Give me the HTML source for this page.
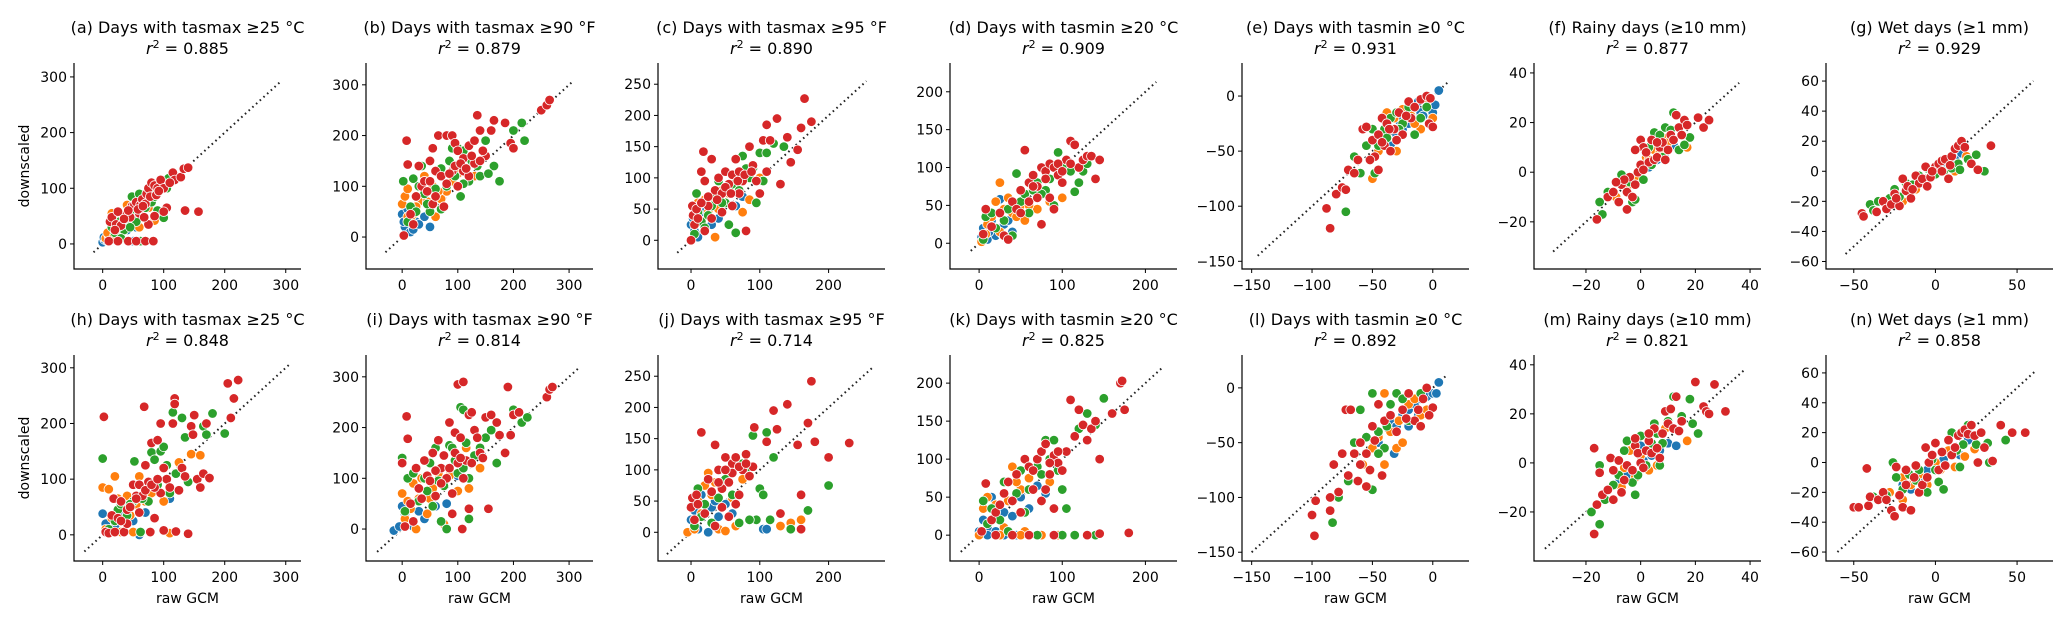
<!DOCTYPE html>
<html><head><meta charset="utf-8"><style>
html,body{margin:0;padding:0;background:#fff}
svg{display:block}
text{font-family:"DejaVu Sans","Liberation Sans",sans-serif;fill:#000}
</style></head><body>
<svg id="fig" width="2067" height="621" viewBox="0 0 2067 621" xmlns="http://www.w3.org/2000/svg"></svg>
<script>
const a_blue=[[0,3],[3,8],[5,15],[8,5],[12,20],[20,10],[30,20],[40,25],[50,5],[55,30],[2,12],[15,8],[25,15]];
const a_orange=[[5,10],[10,15],[20,25],[25,45],[35,30],[40,70],[50,50],[60,30],[85,42],[15,55],[8,20],[18,12],[30,40],[45,60],[55,45],[65,55],[75,65]];
const a_green=[[15,30],[20,20],[28,40],[35,25],[40,45],[48,85],[55,40],[60,90],[65,60],[70,65],[80,75],[88,95],[95,55],[100,47],[105,100],[108,118],[90,60],[45,30],[62,5],[30,10],[25,30],[38,50],[52,55],[58,65],[72,80],[85,85],[92,100]];
const a_red=[[10,5],[25,5],[42,5],[55,5],[70,5],[83,5],[12,40],[15,48],[22,35],[30,33],[38,52],[45,48],[48,68],[52,70],[55,75],[62,70],[65,80],[70,72],[72,90],[75,100],[80,110],[85,105],[90,100],[95,115],[100,100],[105,65],[100,58],[115,128],[118,115],[128,120],[133,135],[140,137],[135,60],[157,58],[75,35],[85,50],[60,55],[68,48],[25,58],[35,45],[42,60],[58,62],[66,68],[78,85],[88,88],[92,95],[110,110],[20,25]];

const b_blue=[[0,45],[5,20],[10,55],[15,10],[25,30],[40,40],[50,20],[3,30],[20,15],[30,25]];
const b_orange=[[0,65],[5,80],[10,95],[20,45],[30,70],[40,120],[55,100],[70,75],[80,90],[100,125],[60,40],[130,120],[15,35],[10,40],[25,60],[45,70],[65,90],[90,110]];
const b_green=[[2,110],[10,30],[15,60],[20,115],[30,100],[35,140],[50,50],[60,95],[70,135],[85,150],[90,175],[100,175],[110,170],[125,150],[140,120],[150,190],[165,140],[175,110],[200,210],[215,225],[220,190],[155,125],[40,85],[70,55],[105,80],[120,110],[25,50],[45,65],[80,100],[95,120],[110,105],[135,140]];
const b_red=[[3,3],[8,190],[10,143],[20,25],[30,140],[35,100],[40,110],[50,150],[55,175],[65,200],[80,200],[90,200],[95,185],[100,170],[110,155],[120,180],[130,190],[135,240],[140,210],[150,160],[160,210],[165,230],[185,225],[195,185],[200,175],[250,250],[260,260],[265,270],[60,130],[70,120],[80,105],[90,130],[55,65],[60,80],[75,60],[110,130],[130,145],[145,170],[45,90],[25,80],[15,45],[100,100],[120,120],[85,125],[95,140],[105,145],[115,135],[125,160],[140,150],[50,110]];

const c_blue=[[0,25],[5,15],[10,5],[20,45],[40,35],[65,55],[75,70],[3,35],[15,30],[30,25]];
const c_orange=[[5,40],[10,60],[20,65],[30,60],[35,5],[45,80],[55,75],[75,45],[100,100],[85,65],[12,30],[25,45],[40,50],[60,85]];
const c_green=[[5,10],[8,75],[15,30],[20,20],[30,55],[40,95],[50,60],[55,25],[60,90],[65,12],[75,135],[80,115],[90,115],[95,60],[100,140],[110,140],[120,155],[135,150],[105,95],[45,60],[10,45],[25,40],[35,70],[70,80],[85,100]];
const c_red=[[0,0],[2,55],[3,40],[5,25],[10,35],[15,110],[18,142],[20,95],[25,55],[30,130],[35,80],[40,100],[45,75],[50,110],[55,90],[60,105],[65,130],[70,110],[75,95],[80,15],[85,150],[90,120],[100,75],[105,160],[110,185],[115,160],[125,195],[130,90],[140,165],[145,125],[155,145],[160,180],[165,227],[175,190],[60,55],[45,45],[30,35],[20,15],[70,75],[95,95],[110,110],[8,50],[15,60],[25,70],[38,65],[50,85],[58,75],[68,95],[78,105],[88,110]];

const d_blue=[[5,20],[10,5],[20,10],[25,58],[30,25],[35,30],[40,15],[15,30],[3,8],[12,15],[28,12]];
const d_orange=[[3,2],[10,25],[20,55],[25,15],[35,60],[40,40],[45,35],[55,30],[70,45],[85,55],[100,60],[25,80],[8,12],[15,35],[30,45],[50,50],[60,50]];
const d_green=[[5,5],[8,35],[15,40],[20,20],[30,30],[40,10],[45,92],[50,55],[55,65],[60,40],[70,80],[80,70],[90,50],[95,120],[100,100],[110,95],[115,68],[120,80],[125,95],[130,105],[65,70],[35,45],[75,65],[85,85]];
const d_red=[[5,12],[8,45],[15,22],[25,40],[30,10],[35,5],[40,55],[45,45],[50,70],[55,123],[60,80],[65,90],[70,75],[75,100],[80,95],[85,105],[90,100],[95,90],[100,80],[105,110],[110,135],[115,130],[120,100],[125,110],[130,115],[135,115],[140,85],[145,110],[60,55],[70,60],[85,60],[90,45],[75,25],[50,40],[65,75],[80,85],[95,105],[100,95],[110,105]];

const e_blue=[[-35,-45],[-30,-35],[-25,-30],[-20,-25],[-15,-20],[-10,-15],[-5,-10],[0,-15],[2,-8],[5,5],[-40,-40],[-12,-5],[-28,-22],[-8,-18]];
const e_orange=[[-50,-75],[-45,-50],[-38,-15],[-30,-50],[-22,-20],[-18,-18],[-10,-30],[-5,-5],[0,-20],[-40,-35],[-32,-20],[-25,-12],[-15,-25]];
const e_green=[[-72,-105],[-65,-55],[-55,-45],[-50,-30],[-48,-70],[-40,-30],[-35,-20],[-30,-15],[-25,-25],[-15,-35],[-10,-20],[-5,-10],[-60,-70],[-20,-10],[-45,-45],[-38,-38],[-28,-30]];
const e_red=[[-85,-120],[-88,-102],[-80,-89],[-75,-83],[-72,-85],[-70,-67],[-65,-70],[-62,-58],[-58,-30],[-55,-28],[-50,-40],[-48,-55],[-45,-35],[-42,-20],[-40,-45],[-38,-25],[-35,-50],[-32,-30],[-28,-15],[-25,-35],[-20,-5],[-15,-10],[-10,-3],[-5,0],[-3,-25],[0,-28],[-2,-2],[-45,-67],[-52,-58],[-30,-40],[-18,-20],[-42,-42],[-36,-30],[-22,-18]];

const f_blue=[[-6,-5],[-3,-3],[0,-1],[3,2],[6,5],[9,8],[12,11]];
const f_orange=[[-9,-10],[-2,-2],[2,6],[5,9],[8,14],[10,12],[17,10],[-5,-6],[0,0],[3,5],[7,8]];
const f_green=[[-15,-12],[-14,-17],[-12,-8],[-7,-1],[-3,-12],[-2,-11],[1,-3],[3,10],[5,16],[7,15],[9,18],[11,17],[12,24],[14,9],[18,14],[16,11],[4,3],[-4,-4],[8,6]];
const f_red=[[-16,-19],[-12,-10],[-10,-8],[-8,-12],[-7,-5],[-5,-15],[-5,-8],[-4,-2],[-3,-10],[-2,-5],[-1,0],[0,3],[0,13],[1,10],[2,8],[3,4],[4,13],[5,5],[6,6],[7,10],[8,12],[9,5],[10,9],[11,15],[12,13],[13,23],[14,18],[16,21],[17,19],[21,22],[23,18],[25,21],[15,15],[-2,9],[-6,-3],[-9,-4],[1,1],[6,12]];

const g_blue=[[-25,-15],[-15,-12],[-8,-8],[0,0],[6,4],[12,8],[16,12]];
const g_orange=[[-30,-22],[-20,-20],[-12,-12],[-6,-5],[2,2],[8,6],[12,0],[19,10]];
const g_green=[[-40,-22],[-38,-26],[-35,-20],[-28,-18],[-22,-17],[-18,-8],[-14,-9],[-10,-3],[-5,2],[0,-2],[5,0],[10,2],[14,5],[15,1],[20,8],[25,11],[30,0],[-25,-12],[-8,-6]];
const g_red=[[-45,-28],[-44,-30],[-36,-27],[-32,-20],[-30,-25],[-27,-22],[-25,-15],[-22,-23],[-20,-5],[-18,-13],[-17,-10],[-15,-18],[-12,-3],[-10,-8],[-8,-5],[-5,-10],[-3,-4],[0,3],[2,5],[4,7],[6,8],[8,-5],[10,10],[12,15],[14,17],[16,20],[18,16],[22,5],[26,1],[34,17],[-6,3],[4,0],[-24,-18],[-14,-12],[-2,0],[9,4]];

const h_blue=[[0,38],[5,20],[10,8],[20,15],[35,5],[60,0],[70,40],[110,65],[30,40],[50,25]];
const h_orange=[[0,85],[5,10],[10,82],[20,105],[25,65],[30,5],[40,70],[50,5],[60,105],[70,60],[80,75],[100,60],[110,3],[125,130],[145,145],[160,143],[15,30],[45,35],[35,50],[55,55]];
const h_green=[[0,137],[10,10],[20,25],[25,45],[30,55],[40,35],[50,60],[52,132],[60,70],[62,5],[75,60],[80,148],[85,135],[95,150],[100,158],[105,125],[110,75],[115,220],[120,110],[130,210],[135,175],[140,95],[165,195],[170,180],[180,218],[200,182],[90,90],[45,55],[65,65]];
const h_red=[[2,212],[5,5],[10,3],[15,35],[18,65],[20,5],[25,30],[30,60],[35,5],[40,45],[45,50],[50,90],[55,70],[60,40],[65,70],[68,230],[70,125],[75,95],[78,5],[80,165],[85,30],[90,170],[95,200],[100,120],[100,8],[105,100],[110,85],[115,200],[118,245],[118,235],[120,6],[125,80],[130,120],[135,105],[140,2],[145,195],[148,180],[150,215],[155,100],[160,85],[165,110],[170,200],[175,102],[205,272],[210,210],[215,245],[222,278],[95,75],[85,85],[60,90],[40,20],[30,25],[70,80],[80,90],[90,100],[55,65]];

const i_blue=[[-15,-3],[-5,5],[0,45],[5,30],[10,10],[20,5],[30,35],[40,20],[60,45],[80,50],[100,105]];
const i_orange=[[0,70],[5,20],[10,55],[20,90],[25,0],[35,100],[45,30],[55,80],[65,110],[75,10],[85,105],[100,75],[115,160],[120,80],[140,120],[15,40],[30,60],[50,60]];
const i_green=[[0,140],[5,35],[10,100],[20,110],[30,55],[40,100],[50,130],[55,45],[60,160],[70,15],[80,0],[85,165],[90,160],[95,135],[100,110],[105,240],[110,235],[115,170],[120,20],[130,145],[140,160],[150,180],[160,195],[170,130],[200,235],[215,210],[225,220],[75,85],[120,100],[45,75],[65,95],[110,120]];
const i_red=[[0,130],[5,5],[8,222],[10,178],[15,50],[20,15],[25,120],[30,80],[35,60],[40,135],[45,105],[50,95],[55,150],[60,65],[65,175],[70,120],[75,145],[80,100],[85,210],[90,30],[95,190],[100,285],[105,180],[108,0],[110,290],[115,135],[120,225],[120,40],[125,230],[130,195],[135,180],[140,150],[150,220],[155,40],[160,225],[170,210],[175,185],[185,150],[190,280],[195,185],[200,225],[210,230],[260,260],[265,275],[270,280],[60,115],[90,70],[100,130],[110,100],[70,90],[85,120],[95,150],[105,140],[125,130],[145,140]];

const j_blue=[[0,20],[5,35],[10,5],[15,60],[25,0],[30,40],[35,50],[40,25],[50,45],[105,5],[110,5],[60,30]];
const j_orange=[[-5,0],[5,5],[10,50],[20,75],[25,95],[35,80],[40,5],[50,2],[60,55],[65,10],[75,85],[130,10],[145,15],[160,20],[15,30],[30,60]];
const j_green=[[5,10],[10,70],[15,25],[20,45],[30,15],[40,55],[50,85],[60,60],[70,15],[80,100],[90,155],[95,20],[100,70],[105,60],[115,20],[110,160],[120,120],[145,5],[170,35],[200,75],[85,20],[55,100],[75,110]];
const j_red=[[0,40],[2,55],[5,20],[8,60],[10,45],[15,160],[20,30],[25,85],[30,65],[35,140],[40,100],[45,40],[50,120],[55,80],[60,110],[65,120],[70,60],[75,100],[80,125],[85,90],[90,105],[92,168],[110,145],[120,195],[125,165],[130,30],[140,205],[155,140],[160,60],[160,5],[170,175],[175,242],[180,145],[200,120],[230,143],[35,10],[55,25],[65,45],[45,70],[60,95],[70,105],[80,110],[50,100],[40,80]];

const k_blue=[[0,5],[5,20],[10,10],[15,50],[20,5],[30,30],[40,25],[50,50],[60,35],[70,65],[80,55],[10,0],[30,0],[45,0]];
const k_orange=[[0,0],[5,35],[10,50],[20,40],[30,10],[35,45],[40,90],[50,60],[55,5],[60,75],[70,100],[85,70],[75,0],[95,0],[25,0],[50,0],[45,70],[65,85]];
const k_green=[[5,45],[10,15],[15,35],[25,20],[30,70],[35,5],[45,55],[50,85],[55,30],[60,60],[70,90],[80,125],[90,125],[95,85],[100,60],[105,35],[120,140],[130,160],[140,145],[150,180],[70,0],[100,0],[115,0],[140,0],[75,80],[85,100]];
const k_red=[[3,5],[8,68],[15,20],[20,30],[25,40],[30,55],[35,70],[40,45],[45,80],[50,30],[55,100],[60,90],[65,60],[70,100],[75,110],[80,120],[85,80],[90,105],[95,95],[100,85],[105,110],[110,178],[115,130],[120,165],[125,145],[130,125],[135,140],[140,150],[145,100],[160,160],[170,200],[172,203],[175,165],[180,3],[60,0],[90,0],[130,0],[145,2],[40,0],[20,0],[80,60],[75,45],[90,35],[65,85],[85,95],[95,110]];

const l_blue=[[-45,-50],[-35,-30],[-30,-35],[-25,-25],[-20,-20],[-15,-15],[-10,-10],[-5,-8],[0,-5],[3,-5],[5,5],[-32,-60],[-20,-35],[-12,-25]];
const l_orange=[[-58,-70],[-50,-55],[-45,-45],[-40,-5],[-35,-40],[-30,-55],[-25,-50],[-20,-15],[-15,-10],[-10,-25],[-5,-20],[-40,-70],[-28,-30]];
const l_green=[[-83,-123],[-78,-100],[-70,-85],[-65,-50],[-60,-20],[-55,-45],[-50,-5],[-45,-40],[-40,-55],[-35,-15],[-30,-5],[-25,-10],[-20,-30],[-10,-5],[-50,-93],[-45,-60],[-38,-35]];
const l_red=[[-98,-135],[-100,-116],[-97,-103],[-85,-112],[-85,-100],[-82,-70],[-78,-95],[-75,-60],[-72,-20],[-70,-80],[-68,-20],[-65,-60],[-62,-85],[-60,-50],[-55,-90],[-52,-75],[-50,-35],[-45,-15],[-40,-30],[-35,-25],[-30,-40],[-25,-20],[-20,-5],[-15,-30],[-10,-35],[-5,0],[0,-18],[-3,-25],[-8,-10],[-42,-80],[-55,-60],[-60,-70],[-12,-20],[-48,-48],[-22,-28]];

const m_blue=[[-8,-8],[-5,-5],[-2,-6],[1,1],[4,3],[7,5],[10,8],[13,7],[0,7]];
const m_orange=[[-10,-15],[-7,-10],[-4,5],[-2,-6],[0,3],[3,-3],[6,-1],[9,14],[17,9],[-6,-2]];
const m_green=[[-18,-20],[-15,-1],[-15,-25],[-13,-15],[-10,-9],[-8,-5],[-6,5],[-5,9],[-3,-8],[-2,-13],[0,11],[2,-1],[4,8],[5,16],[7,-1],[8,8],[10,17],[12,27],[15,19],[18,26],[19,16],[21,12],[-1,-5],[6,12]];
const m_red=[[-17,-29],[-17,6],[-16,-17],[-15,-4],[-14,-13],[-12,-11],[-11,2],[-10,-3],[-8,1],[-7,-12],[-6,-7],[-5,-1],[-3,-3],[-2,7],[-1,4],[0,0],[1,-2],[2,5],[3,9],[4,4],[5,14],[6,6],[7,2],[8,12],[9,21],[10,16],[11,22],[12,14],[13,27],[14,13],[15,17],[20,33],[23,23],[24,21],[25,20],[27,32],[31,21],[-2,10],[3,12],[-10,-15]];

const n_blue=[[-20,-15],[-10,-10],[-5,-5],[0,-3],[5,2],[10,5],[15,5],[20,15],[-15,-18]];
const n_orange=[[-28,-20],[-20,-25],[-15,-15],[-10,-8],[-5,-15],[0,0],[3,-5],[8,8],[12,-3],[18,4],[24,9],[-20,-10]];
const n_green=[[-38,-23],[-30,-22],[-26,0],[-24,-10],[-20,-18],[-16,-8],[-10,-5],[-5,-20],[-2,2],[2,-13],[5,-18],[10,20],[13,8],[15,-3],[17,12],[20,25],[25,12],[32,13],[33,0],[43,15],[-12,-12],[0,-5]];
const n_red=[[-50,-30],[-47,-30],[-42,-4],[-41,-29],[-40,-23],[-35,-25],[-32,-20],[-30,-25],[-27,-32],[-25,-36],[-24,-3],[-22,-22],[-20,-30],[-18,-15],[-15,-32],[-13,-10],[-12,-2],[-10,-20],[-8,-15],[-6,10],[-4,0],[-2,5],[0,13],[2,-5],[4,7],[6,-2],[8,15],[10,5],[12,10],[14,18],[16,20],[18,22],[20,19],[22,25],[24,18],[26,0],[28,20],[30,10],[35,1],[40,25],[47,20],[55,20],[-18,-5],[-5,-10]];

const titles=['(a) Days with tasmax ≥25 °C','(b) Days with tasmax ≥90 °F','(c) Days with tasmax ≥95 °F','(d) Days with tasmin ≥20 °C','(e) Days with tasmin ≥0 °C','(f) Rainy days (≥10 mm)','(g) Wet days (≥1 mm)','(h) Days with tasmax ≥25 °C','(i) Days with tasmax ≥90 °F','(j) Days with tasmax ≥95 °F','(k) Days with tasmin ≥20 °C','(l) Days with tasmin ≥0 °C','(m) Rainy days (≥10 mm)','(n) Wet days (≥1 mm)'];
const r2vals=['0.885','0.879','0.890','0.909','0.931','0.877','0.929','0.848','0.814','0.714','0.825','0.892','0.821','0.858'];
const ticksA=[0,100,200,300];
const ticksC=[0,100,200];
const ticksCy=[0,50,100,150,200,250];
const ticksDy=[0,50,100,150,200];
const ticksE=[-150,-100,-50,0];
const ticksF=[-20,0,20,40];
const ticksGx=[-50,0,50];
const ticksGy=[-60,-40,-20,0,20,40,60];

const panels=[
 {id:'a',xl:[-47,325],yl:[-45,325],xt:ticksA,yt:ticksA,dg:[-15,290],d:[a_blue,a_orange,a_green,a_red]},
 {id:'b',xl:[-65,343],yl:[-63,343],xt:ticksA,yt:ticksA,dg:[-30,308],d:[b_blue,b_orange,b_green,b_red]},
 {id:'c',xl:[-48,282],yl:[-46,284],xt:ticksC,yt:ticksCy,dg:[-20,255],d:[c_blue,c_orange,c_green,c_red]},
 {id:'d',xl:[-35,238],yl:[-34,238],xt:ticksC,yt:ticksDy,dg:[-10,213],d:[d_blue,d_orange,d_green,d_red]},
 {id:'e',xl:[-158,30],yl:[-157,30],xt:ticksE,yt:[-150,-100,-50,0],dg:[-145,12],d:[e_blue,e_orange,e_green,e_red]},
 {id:'f',xl:[-39,44],yl:[-39,44],xt:ticksF,yt:[-20,0,20,40],dg:[-32,36],d:[f_blue,f_orange,f_green,f_red]},
 {id:'g',xl:[-67,72],yl:[-65,72],xt:ticksGx,yt:ticksGy,dg:[-55,60],d:[g_blue,g_orange,g_green,g_red]},
 {id:'h',xl:[-47,325],yl:[-47,323],xt:ticksA,yt:ticksA,dg:[-30,305],d:[h_blue,h_orange,h_green,h_red]},
 {id:'i',xl:[-65,343],yl:[-63,343],xt:ticksA,yt:ticksA,dg:[-45,320],d:[i_blue,i_orange,i_green,i_red]},
 {id:'j',xl:[-48,282],yl:[-46,284],xt:ticksC,yt:ticksCy,dg:[-35,265],d:[j_blue,j_orange,j_green,j_red]},
 {id:'k',xl:[-35,238],yl:[-34,237],xt:ticksC,yt:ticksDy,dg:[-22,222],d:[k_blue,k_orange,k_green,k_red]},
 {id:'l',xl:[-158,30],yl:[-158,30],xt:ticksE,yt:[-150,-100,-50,0],dg:[-150,12],d:[l_blue,l_orange,l_green,l_red]},
 {id:'m',xl:[-39,44],yl:[-40,44],xt:ticksF,yt:[-20,0,20,40],dg:[-35,38],d:[m_blue,m_orange,m_green,m_red]},
 {id:'n',xl:[-67,72],yl:[-66,72],xt:ticksGx,yt:ticksGy,dg:[-60,62],d:[n_blue,n_orange,n_green,n_red]}
];
const colors=['#1f77b4','#ff7f0e','#2ca02c','#d62728'];
const seriesNames=['blue','orange','green','red'];
const NS='http://www.w3.org/2000/svg';
const svg=document.getElementById('fig');
function mk(tag,attrs,parent){const e=document.createElementNS(NS,tag);for(const k in attrs)e.setAttribute(k,attrs[k]);(parent||svg).appendChild(e);return e;}
function fmt(v){return v<0?'\u2212'+Math.abs(v):String(v);}
panels.forEach((p,idx)=>{
 const col=idx%7,row=Math.floor(idx/7);
 const L=74+col*292,W=227,T=row?355:63,H=206;
 const sx=v=>L+(v-p.xl[0])/(p.xl[1]-p.xl[0])*W;
 const sy=v=>T+H-(v-p.yl[0])/(p.yl[1]-p.yl[0])*H;
 const g=mk('g',{});
 
 
 const cx=L+W/2;
 const t1=mk('text',{x:cx,y:T-30,'text-anchor':'middle','font-size':'16'},g);
 t1.textContent=titles[idx];
 
 
 const t2=mk('text',{x:cx,y:T-9,'text-anchor':'middle','font-size':'16'},g);
 
 
 const s1=mk('tspan',{'font-style':'italic'},t2);s1.textContent='r';
 const s2=mk('tspan',{dy:'-6','font-size':'11'},t2);s2.textContent='2';
 const s3=mk('tspan',{dy:'6'},t2);s3.textContent=' = '+r2vals[idx];
 const dl=mk('line',{x1:sx(p.dg[0]),y1:sy(p.dg[0]),x2:sx(p.dg[1]),y2:sy(p.dg[1]),stroke:'#222','stroke-width':'2','stroke-dasharray':'1.6 3.4'},g);
 
 
 p.d.forEach((arr,si)=>{
  arr.forEach(pt=>{
   const c=mk('circle',{cx:sx(pt[0]),cy:sy(pt[1]),r:'4.8',fill:colors[si],stroke:'#fff','stroke-width':'0.8'},g);
   
   
  });
 });
 const ax=mk('path',{d:`M${L},${T}V${T+H}H${L+W}`,fill:'none',stroke:'#000','stroke-width':'1.2'},g);
 
 
 p.xt.forEach(v=>{
  const x=sx(v);
  mk('line',{x1:x,y1:T+H,x2:x,y2:T+H+4,stroke:'#000','stroke-width':'1'},g);
  const tl=mk('text',{x:x,y:T+H+21,'text-anchor':'middle','font-size':'14'},g);
  tl.textContent=fmt(v);
  
  
 });
 p.yt.forEach(v=>{
  const y=sy(v);
  mk('line',{x1:L-4,y1:y,x2:L,y2:y,stroke:'#000','stroke-width':'1'},g);
  const tl=mk('text',{x:L-7,y:y+5,'text-anchor':'end','font-size':'14'},g);
  tl.textContent=fmt(v);
  
  
 });
 if(col===0){
  const yl=mk('text',{x:29,y:T+H/2,'text-anchor':'middle','font-size':'14',transform:`rotate(-90 29 ${T+H/2})`},g);
  yl.textContent='downscaled';
  
  
 }
 if(row===1){
  const xl=mk('text',{x:cx,y:T+H+42,'text-anchor':'middle','font-size':'14'},g);
  xl.textContent='raw GCM';
  
  
 }
});
</script>
</body></html>
